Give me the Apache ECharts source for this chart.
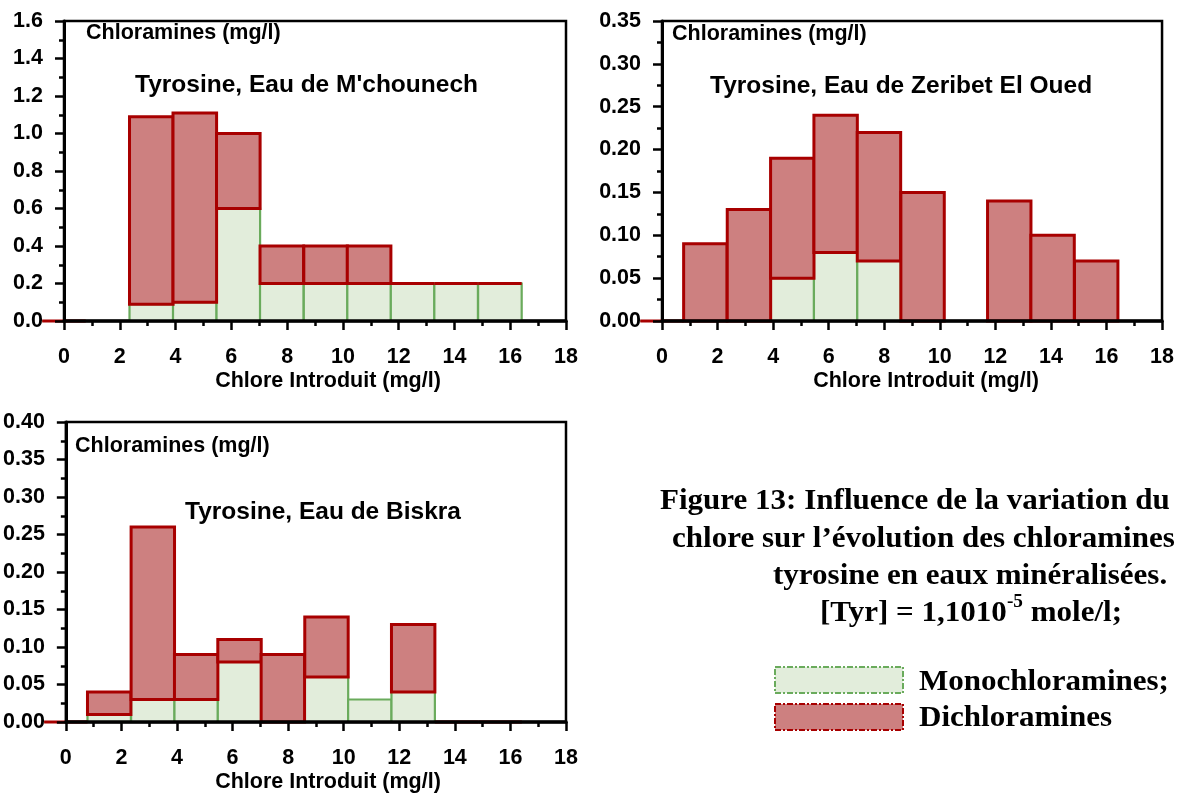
<!DOCTYPE html>
<html lang="fr">
<head>
  <meta charset="UTF-8">
  <title>Tyrosine - chloramines</title>
  <style>
    html, body { margin: 0; padding: 0; background: #fff; }
    #main { width: 1177px; height: 793px; }
  </style>
</head>
<body>
  <div id="main"></div>
  <script src="https://cdn.jsdelivr.net/npm/echarts@6/dist/echarts.min.js"></script>
  <script>
    // chlore introduit (mg/l), centre de chaque classe
    var chlore = [0, 1.56, 3.13, 4.69, 6.25, 7.81, 9.38, 10.94, 12.5, 14.06, 15.63];
    var binWidth = 1.5625;

    // Eau de M'chounech
    var monoMch = [0, null, 0.09, 0.10, 0.60, 0.20, 0.20, 0.20, 0.20, 0.20, 0.20];
    var diMch = [0, null, 1.00, 1.01, 0.40, 0.20, 0.20, 0.20, 0, 0, 0];
    // Eau de Zeribet El Oued
    var monoZer = [0, 0, 0, 0.05, 0.08, 0.07, 0, 0, 0, 0, 0];
    var diZer = [0, 0.09, 0.13, 0.14, 0.16, 0.15, 0.15, null, 0.14, 0.10, 0.07];
    // Eau de Biskra
    var monoBis = [0, 0.01, 0.03, 0.03, 0.08, 0, 0.06, 0.03, 0.04, 0, 0];
    var diBis = [0, 0.03, 0.23, 0.06, 0.03, 0.09, 0.08, null, 0.09, 0, 0];

    var xTicks = [0, 2, 4, 6, 8, 10, 12, 14, 16, 18];

    var sans = 'Arial, "Liberation Sans", sans-serif';
    var serif = '"Times New Roman", "Liberation Serif", serif';

    var greenFill = '#e2eddb', greenLine = '#6aab5c';
    var redFill = '#cd8080', redLine = '#a80000';

    var myChart = echarts.init(document.getElementById('main'), null, { renderer: 'canvas' });

    function barRenderer(fill, stroke, lw) {
      return function (params, api) {
        var x = api.value(0);
        var a = api.coord([x - binWidth / 2, api.value(2)]);
        var b = api.coord([x + binWidth / 2, api.value(1)]);
        return {
          type: 'rect',
          shape: { x: a[0], y: a[1], width: b[0] - a[0], height: b[1] - a[1] },
          style: { fill: fill, stroke: stroke, lineWidth: lw }
        };
      };
    }

    function monoData(mono) {
      var out = [];
      for (var i = 0; i < chlore.length; i++) {
        if (mono[i] !== null) out.push([chlore[i], 0, mono[i]]);
      }
      return out;
    }
    function diData(mono, di) {
      var out = [];
      for (var i = 0; i < chlore.length; i++) {
        if (di[i] !== null) {
          var m = mono[i] || 0;
          out.push([chlore[i], m, +(m + di[i]).toFixed(3)]);
        }
      }
      return out;
    }

    var grids = [
      { left: 64, top: 21, width: 502, height: 300 },
      { left: 662, top: 21, width: 502, height: 300 },
      { left: 64, top: 422, width: 502, height: 300 }
    ];
    var yMax = [1.6, 0.35, 0.40];
    var yStep = [0.2, 0.05, 0.05];
    var yDec = [1, 2, 2];
    var monos = [monoMch, monoZer, monoBis];
    var dis = [diMch, diZer, diBis];

    var xAxes = [], yAxes = [], series = [];
    for (var g = 0; g < 3; g++) {
      xAxes.push({
        type: 'value', gridIndex: g, min: xTicks[0], max: xTicks[xTicks.length - 1], interval: 2, z: 5,
        axisLine: { show: true, onZero: false, lineStyle: { color: '#000', width: 3.5 } },
        axisTick: { show: true, length: 9, lineStyle: { color: '#000', width: 2.5 } },
        minorTick: { show: true, splitNumber: 2, length: 5, lineStyle: { color: '#000', width: 2.5 } },
        splitLine: { show: false },
        axisLabel: { color: '#000', fontFamily: sans, fontWeight: 'bold', fontSize: 21.5, margin: 25 }
      });
      (function (d) {
        yAxes.push({
          type: 'value', gridIndex: g, min: 0, max: yMax[g], interval: yStep[g], z: 5,
          axisLine: { show: true, onZero: false, lineStyle: { color: '#000', width: 3 } },
          axisTick: { show: true, length: 9, lineStyle: { color: '#000', width: 2.5 } },
          minorTick: { show: true, splitNumber: 2, length: 5, lineStyle: { color: '#000', width: 2.5 } },
          splitLine: { show: false },
          axisLabel: {
            color: '#000', fontFamily: sans, fontWeight: 'bold', fontSize: 21.5, margin: 21,
            formatter: function (v) { return v.toFixed(d); }
          }
        });
      })(yDec[g]);
      series.push({
        type: 'custom', xAxisIndex: g, yAxisIndex: g, clip: false, z: 2,
        renderItem: barRenderer(greenFill, greenLine, 2.2),
        encode: { x: 0, y: [1, 2] },
        data: monoData(monos[g])
      });
      series.push({
        type: 'custom', xAxisIndex: g, yAxisIndex: g, clip: false, z: 3,
        renderItem: barRenderer(redFill, redLine, 3),
        encode: { x: 0, y: [1, 2] },
        data: diData(monos[g], dis[g])
      });
    }

    function label(x, y, text, size, align) {
      return {
        type: 'text', x: x, y: y, z: 10,
        style: {
          text: text, fill: '#000', fontFamily: sans, fontWeight: 'bold', fontSize: size,
          textAlign: align || 'left', textVerticalAlign: 'middle'
        }
      };
    }
    function serifLine(x, y, text) {
      return {
        type: 'text', x: x, y: y, z: 10, scaleX: 1.07,
        style: {
          text: text, fill: '#000', fontFamily: serif, fontWeight: 'bold', fontSize: 29,
          textAlign: 'left', textVerticalAlign: 'middle'
        }
      };
    }

    var graphics = [
      label(86, 33, 'Chloramines (mg/l)', 21.5),
      label(672, 34, 'Chloramines (mg/l)', 21.5),
      label(75, 446, 'Chloramines (mg/l)', 21.5),
      label(135, 85, "Tyrosine, Eau de M'chounech", 24.5),
      label(710, 86, 'Tyrosine, Eau de Zeribet El Oued', 24.5),
      label(185, 512, 'Tyrosine, Eau de Biskra', 24.5),
      label(328, 381, 'Chlore Introduit (mg/l)', 21.5, 'center'),
      label(926, 381, 'Chlore Introduit (mg/l)', 21.5, 'center'),
      label(328, 782, 'Chlore Introduit (mg/l)', 21.5, 'center'),
      serifLine(660, 502, 'Figure 13: Influence de la variation du'),
      serifLine(672, 540, 'chlore sur l\u2019évolution des chloramines'),
      serifLine(773, 577, 'tyrosine en eaux minéralisées.'),
      {
        type: 'text', x: 820, y: 614, z: 10, scaleX: 1.07,
        style: {
          text: '{a|[Tyr] = 1,1010}{s|-5}{a| mole/l;}',
          textAlign: 'left', textVerticalAlign: 'middle',
          rich: {
            a: { fontFamily: serif, fontWeight: 'bold', fontSize: 29, lineHeight: 42, color: '#000' },
            s: { fontFamily: serif, fontWeight: 'bold', fontSize: 18, lineHeight: 18, color: '#000', verticalAlign: 'top' }
          }
        }
      },
      {
        type: 'rect', z: 10, shape: { x: 775, y: 667, width: 128, height: 26 },
        style: { fill: greenFill, stroke: greenLine, lineWidth: 2, lineDash: [6, 2, 2, 2] }
      },
      {
        type: 'rect', z: 10, shape: { x: 775, y: 704, width: 128, height: 26 },
        style: { fill: redFill, stroke: redLine, lineWidth: 2, lineDash: [6, 2, 2, 2] }
      },
      serifLine(919, 683, 'Monochloramines;'),
      serifLine(919, 719, 'Dichloramines')
    ];

    var option = {
      backgroundColor: '#fff',
      animation: false,
      grid: grids.map(function (gr) {
        return {
          left: gr.left, top: gr.top, width: gr.width, height: gr.height,
          show: true, borderColor: '#000', borderWidth: 2.5, backgroundColor: 'transparent'
        };
      }),
      xAxis: xAxes,
      yAxis: yAxes,
      series: series,
      graphic: graphics
    };
    myChart.setOption(option);
  </script>
</body>
</html>
